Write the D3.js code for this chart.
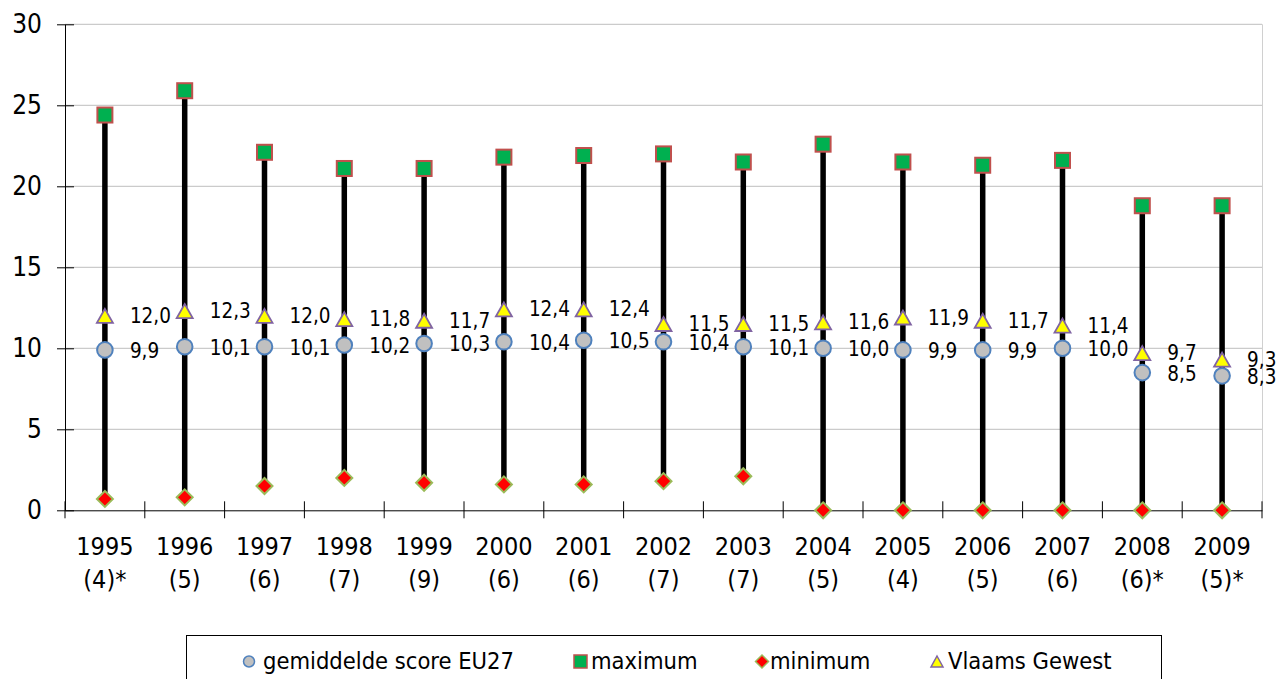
<!DOCTYPE html>
<html><head><meta charset="utf-8">
<script src="https://cdn.jsdelivr.net/npm/d3@7"></script>
<style>
html,body{margin:0;padding:0;background:#fff;}
svg{display:block;font-family:"DejaVu Sans Condensed","DejaVu Sans",sans-serif;}
</style></head>
<body>
<svg id="chart" width="1276" height="679"></svg>
<script>
const years = ['1995','1996','1997','1998','1999','2000','2001','2002','2003','2004','2005','2006','2007','2008','2009'];
const counts = ['(4)*','(5)','(6)','(7)','(9)','(6)','(6)','(7)','(7)','(5)','(4)','(5)','(6)','(6)*','(5)*'];
const avgEU27 = [9.9,10.1,10.1,10.2,10.3,10.4,10.5,10.4,10.1,10.0,9.9,9.9,10.0,8.5,8.3];
const maxVals = [24.4,25.9,22.1,21.1,21.1,21.8,21.9,22.0,21.5,22.6,21.5,21.3,21.6,18.8,18.8];
const minVals = [0.7,0.8,1.5,2.0,1.7,1.6,1.6,1.8,2.1,0,0,0,0,0,0];
const vlaams = [12.0,12.3,12.0,11.8,11.7,12.4,12.4,11.5,11.5,11.6,11.9,11.7,11.4,9.7,9.3];
const yTicks = [0,5,10,15,20,25,30];
const legendLabels = ['gemiddelde score EU27','maximum','minimum','Vlaams Gewest'];

const svg = d3.select('#chart');
const x0 = 65, x1 = 1262, yTop = 24.3, yBot = 510.3;
const x = d3.scaleBand().domain(years).range([x0, x1]).padding(0);
const y = d3.scaleLinear().domain([0,30]).range([yBot, yTop]);
const cx = d => x(d) + x.bandwidth()/2;
const fmt = v => v.toFixed(1).replace('.', ',');

// gridlines
svg.append('g').selectAll('line').data(yTicks.filter(t => t>0)).join('line')
  .attr('x1', x0).attr('x2', x1).attr('y1', d => y(d)).attr('y2', d => y(d))
  .attr('stroke', '#bfbfbf').attr('stroke-width', 1);
// right border
svg.append('line').attr('x1', x1+0.5).attr('x2', x1+0.5).attr('y1', yTop).attr('y2', yBot)
  .attr('stroke', '#d0d0d0').attr('stroke-width', 1);

// y axis
const yAxis = d3.axisLeft(y).tickValues(yTicks).tickSize(0).tickPadding(23);
const gy = svg.append('g').attr('transform', `translate(${x0},0)`).call(yAxis);
gy.select('.domain').attr('stroke', '#000');
gy.selectAll('text').attr('font-size', 26).attr('fill', '#000')
  .attr('font-family', '"DejaVu Sans Condensed","DejaVu Sans",sans-serif');
gy.selectAll('.tick').append('line').attr('x1', -8).attr('x2', 9).attr('stroke', '#000');

// x axis
const xAxis = d3.axisBottom(x).tickSize(0).tickFormat('');
const gx = svg.append('g').attr('transform', `translate(0,${yBot})`).call(xAxis);
gx.select('.domain').attr('stroke', '#000');
gx.selectAll('.tick').remove();
svg.append('g').selectAll('line').data(years.concat(['end'])).join('line')
  .attr('x1', (d,i) => x0 + i*x.bandwidth()).attr('x2', (d,i) => x0 + i*x.bandwidth())
  .attr('y1', yBot-9).attr('y2', yBot+8).attr('stroke', '#000');
const xl = svg.append('g').selectAll('text').data(years).join('text')
  .attr('x', d => cx(d)).attr('text-anchor', 'middle').attr('font-size', 25).attr('fill', '#000');
xl.append('tspan').attr('x', d => cx(d)).attr('y', 555).text(d => d);
xl.append('tspan').attr('x', d => cx(d)).attr('y', 588).text((d,i) => counts[i]);

// stems
svg.append('g').selectAll('line').data(years).join('line')
  .attr('x1', d => cx(d)).attr('x2', d => cx(d))
  .attr('y1', (d,i) => y(minVals[i])).attr('y2', (d,i) => y(maxVals[i]))
  .attr('stroke', '#000').attr('stroke-width', 5.5);

const triPath = (w,h) => `M0,${-h/2}L${w/2},${h/2}L${-w/2},${h/2}Z`;
const diaPath = (r) => `M0,${-r}L${r},0L0,${r}L${-r},0Z`;

// minimum diamonds
svg.append('g').selectAll('path').data(years).join('path')
  .attr('d', diaPath(8)).attr('transform', (d,i) => `translate(${cx(d)},${y(minVals[i])})`)
  .attr('fill', '#ff0000').attr('stroke', '#9bbb59').attr('stroke-width', 2);

// average circles
svg.append('g').selectAll('circle').data(years).join('circle')
  .attr('cx', d => cx(d)).attr('cy', (d,i) => y(avgEU27[i])).attr('r', 7.8)
  .attr('fill', '#c0c0c0').attr('stroke', '#4f81bd').attr('stroke-width', 2);

// maximum squares
svg.append('g').selectAll('rect').data(years).join('rect')
  .attr('x', d => cx(d) - 7.5).attr('y', (d,i) => y(maxVals[i]) - 7.5)
  .attr('width', 15).attr('height', 15)
  .attr('fill', '#00b050').attr('stroke', '#c0504d').attr('stroke-width', 2);

// Vlaams triangles
svg.append('g').selectAll('path').data(years).join('path')
  .attr('d', triPath(16,14)).attr('transform', (d,i) => `translate(${cx(d)},${y(vlaams[i])})`)
  .attr('fill', '#ffff00').attr('stroke', '#8064a2').attr('stroke-width', 1.8);

// data labels
svg.append('g').selectAll('text').data(years).join('text')
  .attr('x', d => cx(d) + 25).attr('y', (d,i) => y(avgEU27[i]) + 8)
  .attr('font-size', 20.5).attr('fill', '#000').text((d,i) => fmt(avgEU27[i]));
svg.append('g').selectAll('text').data(years).join('text')
  .attr('x', d => cx(d) + 25).attr('y', (d,i) => y(vlaams[i]) + 7)
  .attr('font-size', 20.5).attr('fill', '#000').text((d,i) => fmt(vlaams[i]));

// legend
svg.append('rect').attr('x', 186.5).attr('y', 635.5).attr('width', 975).attr('height', 60)
  .attr('fill', '#fff').attr('stroke', '#000').attr('stroke-width', 1);
const lg = svg.append('g');
const ly = 661.5;
lg.append('circle').attr('cx', 249).attr('cy', ly).attr('r', 5.5)
  .attr('fill', '#c0c0c0').attr('stroke', '#4f81bd').attr('stroke-width', 1.5);
lg.append('rect').attr('x', 574).attr('y', ly-6.5).attr('width', 13).attr('height', 13)
  .attr('fill', '#00b050').attr('stroke', '#c0504d').attr('stroke-width', 1.5);
lg.append('path').attr('d', diaPath(6.5)).attr('transform', `translate(762,${ly})`)
  .attr('fill', '#ff0000').attr('stroke', '#9bbb59').attr('stroke-width', 1.5);
lg.append('path').attr('d', triPath(12,11)).attr('transform', `translate(937,${ly})`)
  .attr('fill', '#ffff00').attr('stroke', '#8064a2').attr('stroke-width', 1.5);
const lx = [263, 591, 770, 948];
lg.selectAll('text').data(legendLabels).join('text')
  .attr('x', (d,i) => lx[i]).attr('y', 669).attr('font-size', 23.5).attr('fill', '#000')
  .text(d => d);
</script>
</body></html>
